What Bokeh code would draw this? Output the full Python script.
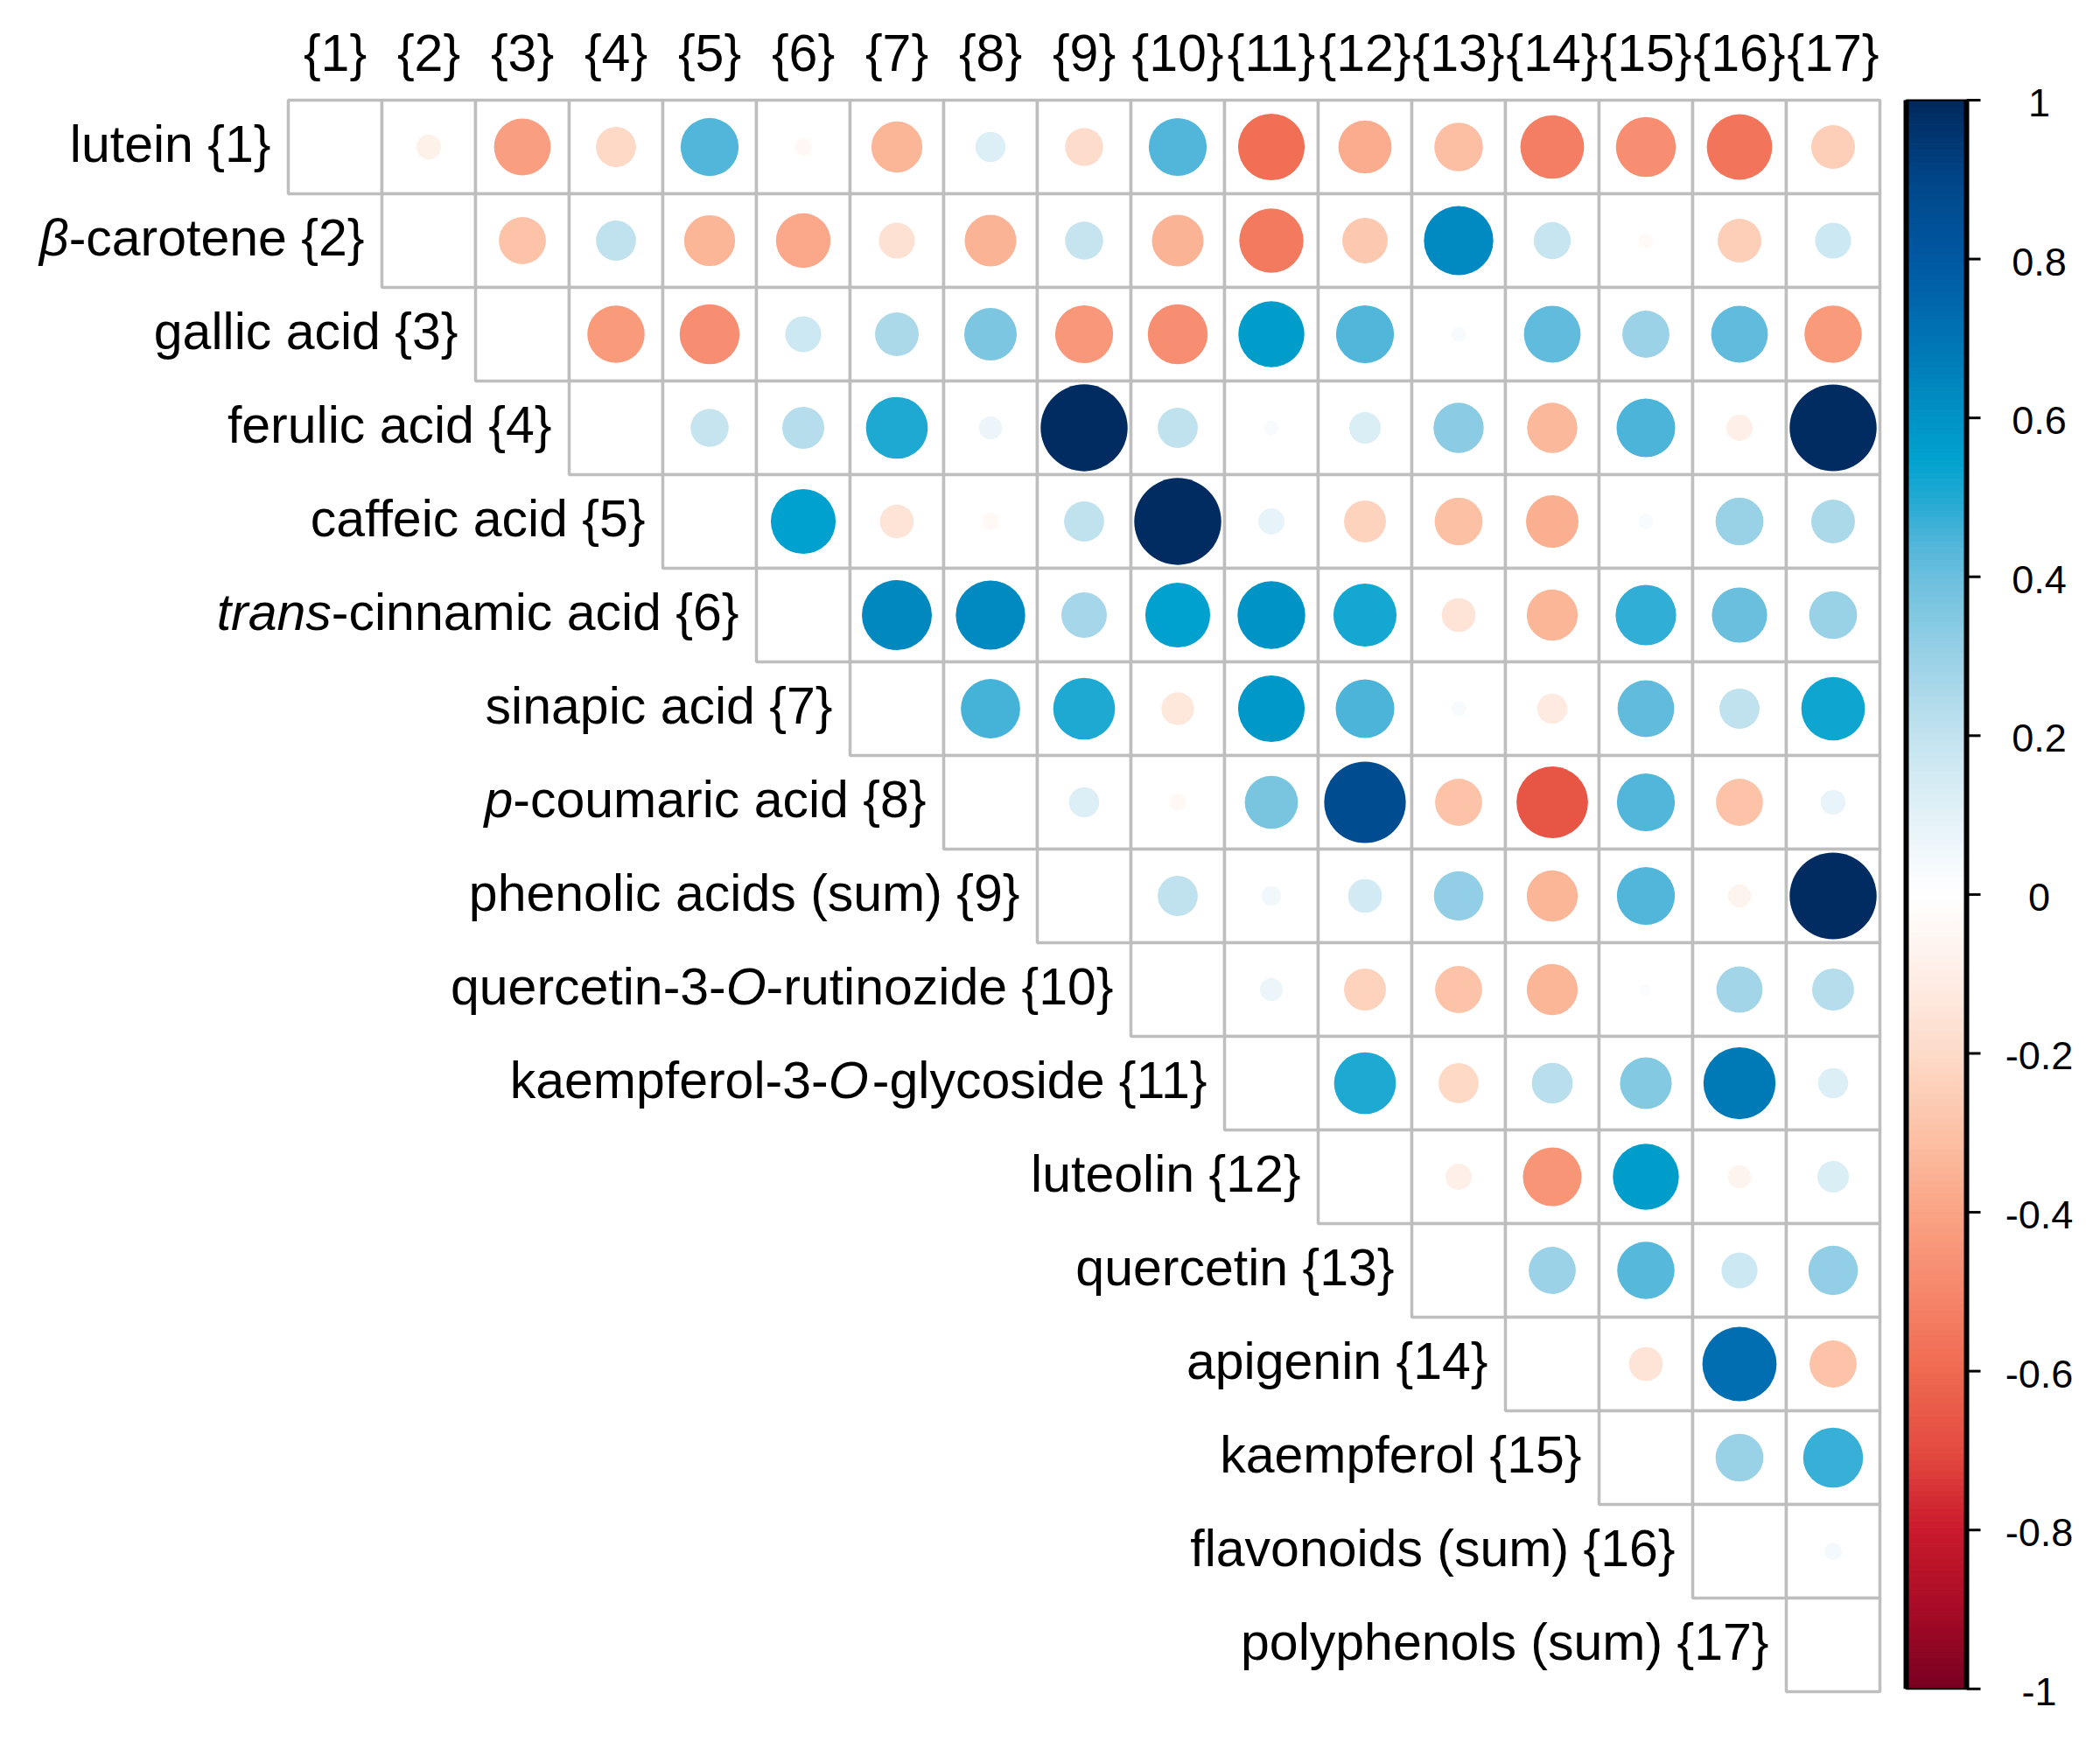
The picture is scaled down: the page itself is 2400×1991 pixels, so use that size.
import numpy as np
from bokeh.plotting import figure
from bokeh.models import Range1d, ColumnDataSource
from bokeh.transform import linear_cmap
from bokeh.core.properties import value
from bokeh.embed import file_html
from bokeh.resources import INLINE

# ---------------- data ----------------
col_labels = ["{1}", "{2}", "{3}", "{4}", "{5}", "{6}", "{7}", "{8}", "{9}",
              "{10}", "{11}", "{12}", "{13}", "{14}", "{15}", "{16}", "{17}"]
# *...* marks italic parts
row_labels = ["lutein {1}", "*β*-carotene {2}", "gallic acid {3}", "ferulic acid {4}",
              "caffeic acid {5}", "*trans*-cinnamic acid {6}", "sinapic acid {7}",
              "*p*-coumaric acid {8}", "phenolic acids (sum) {9}",
              "quercetin-3-*O*-rutinozide {10}", "kaempferol-3-*O*-glycoside {11}",
              "luteolin {12}", "quercetin {13}", "apigenin {14}", "kaempferol {15}",
              "flavonoids (sum) {16}", "polyphenols (sum) {17}"]

# correlations of row i with columns i+1 .. 17
r01 = [-0.08, -0.42, -0.21, 0.44, -0.04, -0.34, 0.12, -0.19, 0.44, -0.58, -0.37, -0.31, -0.53, -0.47, -0.56, -0.25]
r02 = [-0.29, 0.21, -0.34, -0.39, -0.17, -0.35, 0.19, -0.35, -0.54, -0.27, 0.63, 0.18, -0.03, -0.25, 0.17]
r03 = [-0.43, -0.47, 0.17, 0.25, 0.36, -0.44, -0.47, 0.57, 0.44, 0.03, 0.42, 0.29, 0.42, -0.43]
r04 = [0.19, 0.23, 0.50, 0.07, 0.99, 0.21, 0.03, 0.13, 0.33, -0.33, 0.45, -0.09, 0.99]
r05 = [0.55, -0.15, -0.04, 0.21, 0.99, 0.09, -0.23, -0.30, -0.36, 0.03, 0.30, 0.25]
r06 = [0.64, 0.63, 0.27, 0.55, 0.60, 0.52, -0.15, -0.34, 0.48, 0.40, 0.30]
r07 = [0.46, 0.50, -0.14, 0.58, 0.45, 0.03, -0.12, 0.42, 0.21, 0.53]
r08 = [0.12, -0.04, 0.37, 0.87, -0.29, -0.67, 0.44, -0.29, 0.08]
r09 = [0.21, 0.05, 0.15, 0.32, -0.34, 0.44, -0.07, 0.99]
r10 = [0.07, -0.23, -0.29, -0.34, 0.02, 0.28, 0.23]
r11 = [0.50, -0.21, 0.22, 0.35, 0.68, 0.12]
r12 = [-0.09, -0.45, 0.57, -0.07, 0.13]
r13 = [0.29, 0.43, 0.17, 0.32]
r14 = [-0.15, 0.72, -0.29]
r15 = [0.30, 0.47]
r16 = [0.04]
rows = [r01, r02, r03, r04, r05, r06, r07, r08, r09, r10, r11, r12, r13, r14, r15, r16]

cbar_ticks = [1, 0.8, 0.6, 0.4, 0.2, 0, -0.2, -0.4, -0.6, -0.8, -1]
cbar_tick_labels = ["1", "0.8", "0.6", "0.4", "0.2", "0", "-0.2", "-0.4", "-0.6", "-0.8", "-1"]

# ---------------- colour palette ----------------
anchors = [(-1.0, "#7A0021"), (-0.9, "#A80C26"), (-0.8, "#CB1B2D"), (-0.7, "#E44C40"),
           (-0.6, "#EF6A51"), (-0.5, "#F6876A"), (-0.4, "#FAA485"), (-0.3, "#FCC2A6"),
           (-0.2, "#FDDBC9"), (-0.1, "#FEEEE6"), (0.0, "#FFFFFF"), (0.1, "#E3F2F8"),
           (0.2, "#C2E3EF"), (0.3, "#9AD1E6"), (0.4, "#6CC0DE"), (0.45, "#4DB4D8"),
           (0.5, "#22AAD3"), (0.55, "#00A2CE"), (0.6, "#0094C6"), (0.7, "#0075B5"),
           (0.8, "#0059A3"), (0.9, "#00478A"), (1.0, "#002A5E")]
av = np.array([a[0] for a in anchors])
ac = np.array([[int(h[1:3], 16), int(h[3:5], 16), int(h[5:7], 16)] for _, h in anchors], float)
NPAL = 256
pv = np.linspace(-1, 1, NPAL)
palette = []
for v in pv:
    rgb = [np.interp(v, av, ac[:, k]) for k in range(3)]
    palette.append("#%02x%02x%02x" % tuple(int(round(c)) for c in rgb))

# ---------------- layout ----------------
W, H = 2384, 1975
PX = 107.0             # cell size in px
GX, GY = 329.0, 114.0  # canvas px of grid's top-left corner
n = 17
FSZ = 59.0

p = figure(width=W, height=H, output_backend="svg", toolbar_location=None,
           x_range=Range1d(0.5 - GX / PX, 0.5 + (W - GX) / PX),
           y_range=Range1d(0.5 + (H - GY) / PX, 0.5 - GY / PX),
           x_axis_type=None, y_axis_type=None, min_border=0)
p.outline_line_color = None
p.background_fill_color = "white"

# grid cells (upper triangle incl. diagonal)
cx, cy = [], []
for i in range(1, n + 1):
    for j in range(i, n + 1):
        cx.append(j)
        cy.append(i)
p.rect(x=cx, y=cy, width=1, height=1, fill_color="white",
       line_color="#BEBEBE", line_width=3.5)

# circles
xs, ys, rs, rad = [], [], [], []
for i, vals in enumerate(rows, start=1):
    for k, r in enumerate(vals):
        j = i + 1 + k
        xs.append(j)
        ys.append(i)
        rs.append(r)
        rad.append(0.467 * np.sqrt(abs(r)))
src = ColumnDataSource(dict(x=xs, y=ys, r=rs, rad=rad))
p.circle(x="x", y="y", radius="rad", source=src, line_color=None,
         fill_color=linear_cmap("r", palette, -1, 1))

FONT = value("Liberation Sans")
FS = "%dpx" % FSZ

# column labels
p.text(x=list(range(1, n + 1)), y=[0.19 - 20.0 / PX] * n, text=col_labels, text_font=FONT,
       text_font_size=FS, text_align="center", text_baseline="alphabetic",
       text_color="black")

# row labels (with italic parts), right-aligned before diagonal cell
AW = {' ': 278, '-': 333, '{': 334, '}': 334, '(': 333, ')': 333, 'O': 778, 'β': 575,
      'a': 556, 'b': 556, 'c': 500, 'd': 556, 'e': 556, 'f': 278, 'g': 556, 'h': 556,
      'i': 222, 'j': 222, 'k': 500, 'l': 222, 'm': 833, 'n': 556, 'o': 556, 'p': 556,
      'q': 556, 'r': 333, 's': 500, 't': 278, 'u': 556, 'v': 500, 'w': 722, 'x': 500,
      'y': 500, 'z': 500}
for d in "0123456789":
    AW[d] = 556


def tw(s):
    return sum(AW.get(ch, 556) for ch in s) / 1000.0 * FSZ / PX


norm = dict(x=[], y=[], t=[])
ital = dict(x=[], y=[], t=[])
for i, lab in enumerate(row_labels, start=1):
    parts = lab.split("*")
    xr = i - 0.5 - 20.0 / PX
    yb = i - 3.0 / PX
    for k in range(len(parts) - 1, -1, -1):
        s = parts[k]
        if not s:
            continue
        d = ital if k % 2 == 1 else norm
        d["x"].append(xr)
        d["y"].append(yb)
        d["t"].append(s)
        xr -= tw(s)

p.text(x="x", y="y", text="t", source=ColumnDataSource(norm), text_font=FONT,
       text_font_size=FS, text_align="right", text_baseline="alphabetic", text_color="black")
p.text(x="x", y="y", text="t", source=ColumnDataSource(ital), text_font=FONT,
       text_font_size=FS, text_font_style="italic", text_align="right",
       text_baseline="alphabetic", text_color="black")

# colour bar (drawn from the same palette / scale)
CB_L = 17.5 + 30.0 / PX
CB_R = CB_L + 69.0 / PX
CB_T = 0.5
CB_B = 17.47


def cy_of(v):
    return CB_T + (1.0 - v) / 2.0 * (CB_B - CB_T)


edges = np.linspace(-1, 1, NPAL + 1)
mids = (edges[:-1] + edges[1:]) / 2
cb = ColumnDataSource(dict(top=[cy_of(e) for e in edges[1:]],
                           bottom=[cy_of(e) for e in edges[:-1]], v=mids))
p.quad(left=CB_L, right=CB_R, top="top", bottom="bottom", source=cb,
       fill_color=linear_cmap("v", palette, -1, 1),
       line_color=linear_cmap("v", palette, -1, 1), line_width=1)
p.rect(x=(CB_L + CB_R) / 2, y=(CB_T + CB_B) / 2, width=CB_R - CB_L, height=CB_B - CB_T,
       fill_color=None, line_color="black", line_width=2)
p.segment(x0=[CB_L, CB_R], y0=[CB_T, CB_T], x1=[CB_L, CB_R], y1=[CB_B, CB_B],
          line_color="black", line_width=6)
ty = [cy_of(v) for v in cbar_ticks]
p.segment(x0=[CB_R] * len(ty), y0=ty, x1=[CB_R + 16.0 / PX] * len(ty), y1=ty,
          line_color="black", line_width=3)
p.text(x=[17.5 + 182.0 / PX] * len(ty), y=[t + 3.0 / PX for t in ty], text=cbar_tick_labels,
       text_font=FONT, text_font_size="45px", text_align="center",
       text_baseline="middle", text_color="black")

open("out.html", "w").write(file_html(p, INLINE))
